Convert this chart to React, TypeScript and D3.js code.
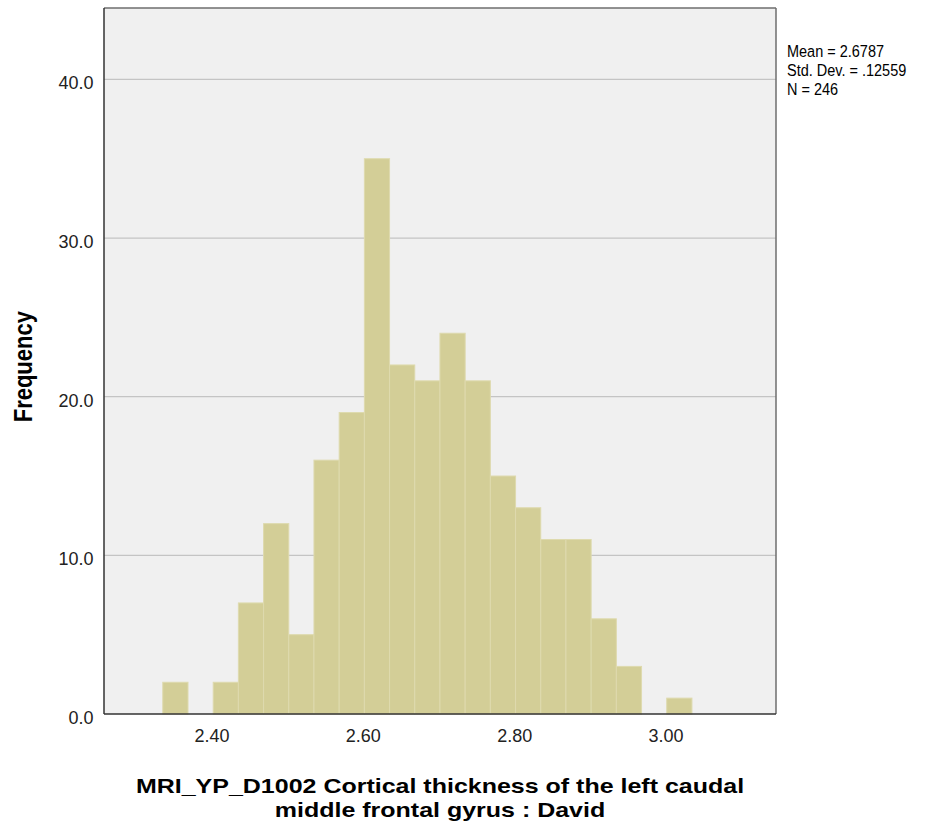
import * as d3 from 'd3';

// histogram bins (SPSS auto bins)
const binStart = 2.335;
const binWidth = 0.0333;
const counts = [2, 0, 2, 7, 12, 5, 16, 19, 35, 22, 21, 24, 21, 15, 13, 11, 11, 6, 3, 0, 1];
const xTicks = [2.4, 2.6, 2.8, 3.0];
const yTicks = [0, 10, 20, 30, 40];
const statLines = ['Mean = 2.6787', 'Std. Dev. = .12559', 'N = 246'];
const xTitle = ['MRI_YP_D1002 Cortical thickness of the left caudal', 'middle frontal gyrus : David'];

const W = 941;
const H = 825;
const plot = { left: 104, right: 776, top: 8, bottom: 714 };
const font = '"Liberation Sans", Arial, sans-serif';

export default function App() {
  const x = d3.scaleLinear().domain([2.2573, 3.1454]).range([plot.left, plot.right]);
  const y = d3.scaleLinear().domain([0, 44.5]).range([plot.bottom, plot.top]);

  const bins = counts.map((c, i) => ({ x0: binStart + i * binWidth, x1: binStart + (i + 1) * binWidth, c }));

  return (
    <svg width={W} height={H} style={{ position: 'absolute', left: 0, top: 0 }} fontFamily={font}>
      <rect x={0} y={0} width={W} height={H} fill="#ffffff" />
      <rect x={plot.left} y={plot.top} width={plot.right - plot.left} height={plot.bottom - plot.top} fill="#f0f0f0" />
      {/* grid lines */}
      {yTicks.filter((t) => t > 0).map((t) => (
        <line key={t} x1={plot.left} x2={plot.right} y1={y(t)} y2={y(t)} stroke="#c4c4c4" strokeWidth={1.2} />
      ))}
      {/* bars */}
      {bins.filter((b) => b.c > 0).map((b, i) => (
        <rect
          key={i}
          x={x(b.x0)}
          y={y(b.c)}
          width={x(b.x1) - x(b.x0)}
          height={y(0) - y(b.c)}
          fill="#d3ce97"
          stroke="#dedaae"
          strokeWidth={1}
        />
      ))}
      {/* frame */}
      <line x1={plot.left} x2={plot.right} y1={plot.top} y2={plot.top} stroke="#6e6e6e" strokeWidth={1.5} />
      <line x1={plot.right} x2={plot.right} y1={plot.top} y2={plot.bottom} stroke="#6e6e6e" strokeWidth={1.5} />
      <line x1={plot.left} x2={plot.left} y1={plot.top} y2={plot.bottom} stroke="#333333" strokeWidth={1.5} />
      <line x1={plot.left} x2={plot.right} y1={plot.bottom} y2={plot.bottom} stroke="#333333" strokeWidth={1.5} />
      {/* y tick labels */}
      {yTicks.map((t) => (
        <text key={t} transform={`translate(93.5,${y(t) + 10}) scale(1,1.04)`} textAnchor="end" fontSize={18} fill="#222">
          {d3.format('.1f')(t)}
        </text>
      ))}
      {/* x tick labels */}
      {xTicks.map((t) => (
        <text key={t} transform={`translate(${x(t)},741.7) scale(1,1.04)`} textAnchor="middle" fontSize={18} fill="#222">
          {d3.format('.2f')(t)}
        </text>
      ))}
      {/* axis titles */}
      <text transform="translate(31.5,366.7) rotate(-90) scale(1,1.15)" textAnchor="middle" fontSize={22} fontWeight="bold" fill="#000">
        Frequency
      </text>
      {xTitle.map((l, i) => (
        <text key={i} transform={`translate(440,${792.5 + i * 24}) scale(1.19,1)`} textAnchor="middle" fontSize={21} fontWeight="bold" fill="#000">
          {l}
        </text>
      ))}
      {/* stats */}
      {statLines.map((l, i) => (
        <text key={i} transform={`translate(787,${57 + i * 18.8}) scale(1,1.12)`} fontSize={14.5} fill="#000">
          {l}
        </text>
      ))}
    </svg>
  );
}
